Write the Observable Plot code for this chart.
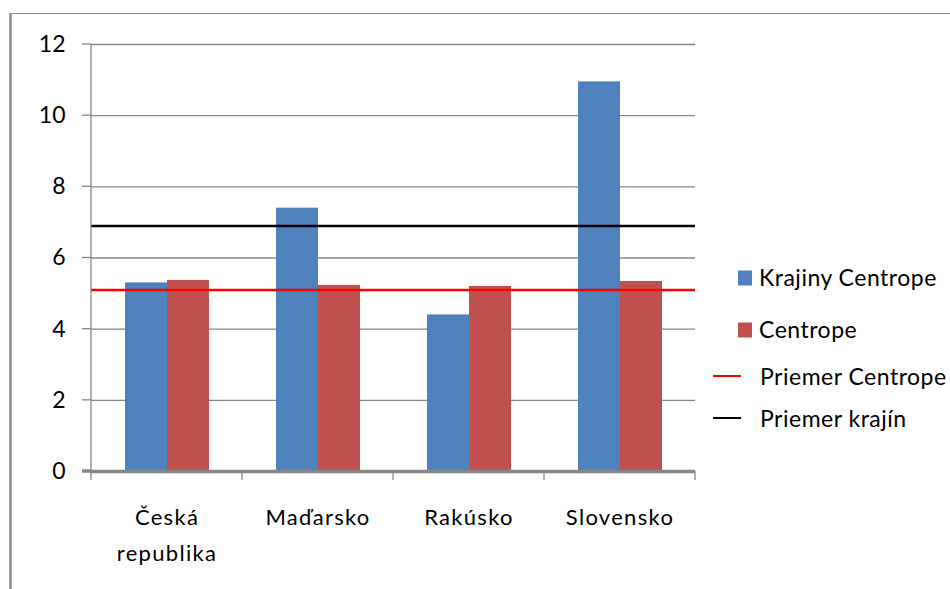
<!DOCTYPE html>
<html><head><meta charset="utf-8">
<script src="https://cdn.jsdelivr.net/npm/d3@7"></script>
<script src="https://cdn.jsdelivr.net/npm/@observablehq/plot@0.6"></script>
<style>
body{margin:0;background:#fff}
#chart{position:relative;width:950px;height:589px;overflow:hidden}
</style>
</head><body><div id="chart"></div>
<script>
const categories = ["Česká republika","Maďarsko","Rakúsko","Slovensko"];
const categoryLabels = ["Česká\nrepublika","Maďarsko","Rakúsko","Slovensko"];
const series = ["Krajiny Centrope","Centrope"];
const krajinyValues = [5.3,7.4,4.4,10.95];
const centropeValues = [5.37,5.23,5.2,5.34];
const meanCentrope = 5.1;
const meanKrajin = 6.9;
const yTicks = [0,2,4,6,8,10,12];
const colors = ["#4f81bd","#c0504d"];
const lineLegend = [{label:"Priemer Centrope", color:"#ff0000"},{label:"Priemer krajín", color:"#000000"}];

const data = categories.flatMap((c,i)=>[
  {cat:c, s:series[0], v:krajinyValues[i]},
  {cat:c, s:series[1], v:centropeValues[i]}
]);

const FONT = "Lato, 'Open Sans', sans-serif";

const plot = Plot.plot({
  width:950, height:589,
  marginLeft:91, marginRight:255, marginTop:44, marginBottom:118,
  style:{fontFamily:FONT, fontSize:"23px", color:"#000", background:"transparent", overflow:"visible"},
  fx:{domain:categories, paddingInner:0, paddingOuter:0, axis:null, label:null},
  x:{domain:series, paddingInner:0, paddingOuter:0.756, axis:null},
  y:{domain:[0,12], ticks:yTicks, tickSize:0, tickPadding:26, label:null, tickFormat:d=>String(d)},
  color:{domain:series, range:colors},
  marks:[
    Plot.ruleY(yTicks.slice(1), {stroke:"#868686", strokeWidth:1.3}),
    Plot.barY(data, {fx:"cat", x:"s", y:"v", fill:"s"}),
    Plot.ruleY([meanKrajin], {stroke:"#000", strokeWidth:2.5}),
    Plot.ruleY([meanCentrope], {stroke:"#ff0000", strokeWidth:2.5}),
    Plot.ruleY([0], {stroke:"#868686", strokeWidth:3.5}),
    Plot.text(categories, {fx:d=>d, text:(d,i)=>categoryLabels[i], frameAnchor:"bottom", lineAnchor:"top", dy:29, lineHeight:1.6, fontSize:22, fill:"#000"})
  ]
});
document.getElementById("chart").appendChild(plot);

const svg = d3.select(plot);
// widen category labels slightly to match the reference typeface
svg.selectAll("text").filter(function(){return categoryLabels.some(l=>l.split("\n").includes(this.textContent)) || categoryLabels.includes(this.textContent.replace(/\s+/g,"\n"));}).attr("letter-spacing","1.3px");
svg.selectAll("g[aria-label='text'] text").attr("letter-spacing","1.3px");

const fxS = plot.scale("fx");
const yS = plot.scale("y");
const fxBand = d3.scaleBand().domain(fxS.domain).range(fxS.range).paddingInner(0).paddingOuter(0);
const yLin = d3.scaleLinear().domain(yS.domain).range(yS.range);
const g = svg.append("g").attr("stroke","#868686");
const x0 = fxS.range[0], x1 = fxS.range[1];
g.append("line").attr("x1",x0).attr("x2",x0).attr("y1",yLin(12)).attr("y2",yLin(0)).attr("stroke-width",1.3);
yTicks.forEach(t=>{
  g.append("line").attr("x1",x0-9).attr("x2",x0).attr("y1",yLin(t)).attr("y2",yLin(t)).attr("stroke-width", t===0?3.5:1.3);
});
const bounds = categories.map(c=>fxBand(c)).concat([x1]);
bounds.forEach(b=>{
  g.append("line").attr("x1",b).attr("x2",b).attr("y1",yLin(0)).attr("y2",yLin(0)+9).attr("stroke-width",1.3);
});
const fr = svg.append("g").attr("stroke","#8c8c8c").attr("fill","none");
fr.append("line").attr("x1",10).attr("x2",950).attr("y1",13.5).attr("y2",13.5).attr("stroke-width",1);
fr.append("line").attr("x1",10.5).attr("x2",10.5).attr("y1",13).attr("y2",589).attr("stroke-width",2.5);

const lg = svg.append("g").attr("font-family",FONT).attr("font-size",23).attr("fill","#000").attr("text-anchor","start").attr("letter-spacing","0.5px");
series.forEach((s,i)=>{
  const cy = 278 + i*52;
  lg.append("rect").attr("x",738).attr("y",cy-7.5).attr("width",14).attr("height",15).attr("fill",colors[i]);
  lg.append("text").attr("x",759).attr("y",cy).attr("dy","0.36em").text(s);
});
lineLegend.forEach((l,i)=>{
  const cy = 376 + i*42;
  lg.append("line").attr("x1",713).attr("x2",741).attr("y1",cy).attr("y2",cy).attr("stroke",l.color).attr("stroke-width",2);
  lg.append("text").attr("x",760).attr("y",cy+1).attr("dy","0.36em").text(l.label);
});
</script>
</body></html>
